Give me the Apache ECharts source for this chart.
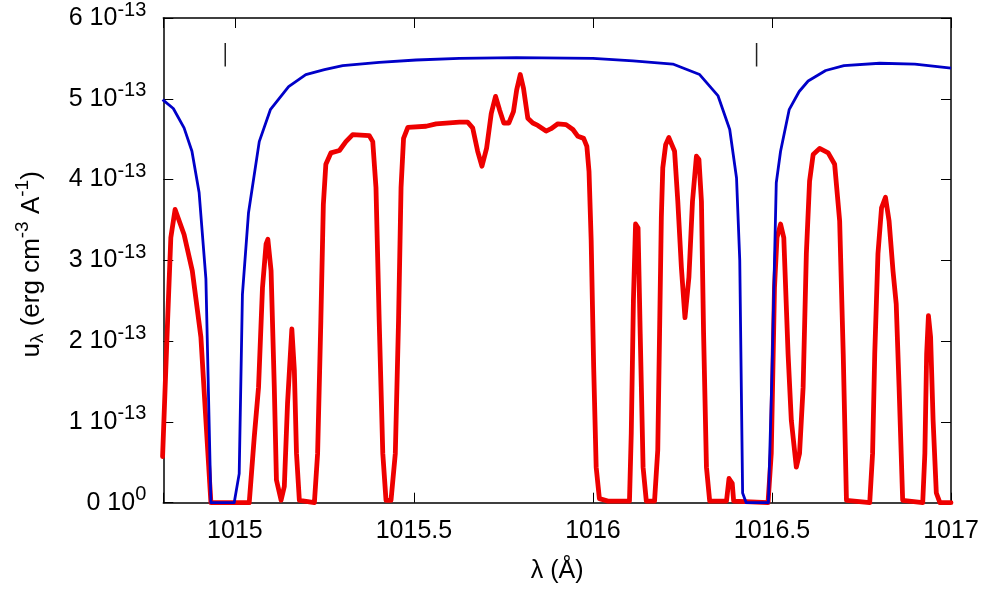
<!DOCTYPE html>
<html>
<head>
<meta charset="utf-8">
<script src="https://cdn.jsdelivr.net/npm/echarts@6/dist/echarts.min.js"></script>
<style>html,body{margin:0;padding:0;background:#fff}#c{width:985px;height:591px}</style>
</head>
<body>
<div id="c"></div>
<script>
// Units: wavelength in Å, energy density in units of 1e-13 erg cm^-3 A^-1
const UNIT = 1e-13;
const xMin = 1014.8, xMax = 1017;
const yTicks = [0, 1, 2, 3, 4, 5, 6];
const xTicks = [1015, 1015.5, 1016, 1016.5, 1017];

const lambdaBlue = [1014.798,1014.828,1014.858,1014.880,1014.900,1014.919,1014.933,1014.998,1015.012,1015.021,1015.038,1015.068,1015.099,1015.150,1015.198,1015.250,1015.301,1015.403,1015.506,1015.627,1015.786,1016.000,1016.112,1016.223,1016.298,1016.349,1016.382,1016.401,1016.410,1016.418,1016.428,1016.490,1016.500,1016.512,1016.524,1016.548,1016.576,1016.601,1016.650,1016.701,1016.801,1016.899,1017.0];
const uBlue = [4.99,4.88,4.64,4.35,3.84,2.77,0.0,0.0,0.36,2.58,3.59,4.47,4.865,5.15,5.30,5.36,5.41,5.45,5.48,5.50,5.51,5.50,5.47,5.43,5.30,5.04,4.62,4.02,3.0,0.12,0.0,0.0,1.6,3.96,4.35,4.865,5.09,5.22,5.35,5.41,5.44,5.43,5.38];

const lambdaRed = [1014.798,1014.812,1014.821,1014.833,1014.858,1014.881,1014.905,1014.919,1014.933,1015.040,1015.054,1015.066,1015.077,1015.087,1015.092,1015.101,1015.110,1015.116,1015.129,1015.138,1015.147,1015.159,1015.166,1015.172,1015.180,1015.222,1015.231,1015.240,1015.247,1015.254,1015.268,1015.292,1015.310,1015.329,1015.375,1015.385,1015.394,1015.403,1015.413,1015.422,1015.436,1015.448,1015.457,1015.464,1015.471,1015.483,1015.534,1015.562,1015.627,1015.650,1015.664,1015.678,1015.690,1015.703,1015.716,1015.728,1015.739,1015.751,1015.765,1015.778,1015.787,1015.797,1015.806,1015.818,1015.832,1015.846,1015.869,1015.883,1015.902,1015.925,1015.944,1015.958,1015.974,1015.983,1015.989,1015.995,1016.002,1016.009,1016.018,1016.042,1016.102,1016.107,1016.113,1016.119,1016.126,1016.132,1016.140,1016.149,1016.172,1016.181,1016.186,1016.191,1016.195,1016.203,1016.212,1016.228,1016.237,1016.247,1016.257,1016.268,1016.278,1016.289,1016.296,1016.303,1016.309,1016.317,1016.326,1016.373,1016.380,1016.389,1016.393,1016.489,1016.498,1016.507,1016.514,1016.524,1016.533,1016.545,1016.554,1016.568,1016.577,1016.587,1016.596,1016.605,1016.615,1016.633,1016.657,1016.675,1016.689,1016.699,1016.708,1016.773,1016.781,1016.787,1016.796,1016.806,1016.817,1016.827,1016.838,1016.847,1016.855,1016.865,1016.921,1016.927,1016.932,1016.937,1016.943,1016.950,1016.959,1016.969,1017.0];
const uRed = [0.57,2.25,3.28,3.63,3.32,2.87,2.05,1.02,0.0,0.0,0.81,1.43,2.66,3.20,3.26,2.87,1.43,0.28,0.03,0.20,1.23,2.15,1.64,0.61,0.03,0.0,0.61,2.25,3.69,4.19,4.33,4.36,4.47,4.557,4.545,4.47,3.90,2.25,0.61,0.03,0.03,0.61,2.25,3.90,4.51,4.647,4.66,4.69,4.71,4.71,4.64,4.35,4.165,4.39,4.82,5.03,4.865,4.70,4.70,4.84,5.11,5.30,5.13,4.76,4.70,4.67,4.60,4.63,4.69,4.68,4.62,4.535,4.51,4.41,4.10,3.25,1.68,0.44,0.05,0.02,0.02,0.86,2.50,3.45,3.40,2.09,0.44,0.02,0.02,0.65,2.09,3.53,4.145,4.43,4.52,4.35,3.73,2.91,2.29,2.79,3.73,4.29,4.25,3.73,2.09,0.44,0.02,0.02,0.30,0.24,0.02,0.0,0.61,2.66,3.28,3.45,3.28,1.84,1.02,0.44,0.61,1.43,3.08,3.98,4.31,4.385,4.33,4.19,3.49,1.84,0.03,0.0,0.61,1.84,3.08,3.65,3.78,3.49,2.87,2.46,1.43,0.03,0.0,0.61,1.84,2.315,2.05,1.02,0.12,0.0,0.0];

// short vertical line markers
const markLambda = [1014.973, 1016.457];
const markU = [5.40, 5.69];

const FONT = '"Liberation Sans", Arial, Helvetica, sans-serif';
const FS = 25, FSS = 20, FT = 26;

function pairs(xs, ys) { return xs.map((x, i) => [x, ys[i] * UNIT]); }

const chart = echarts.init(document.getElementById('c'), null, {renderer: 'canvas'});

const lineAxis = {show: true, onZero: false, lineStyle: {color: '#000', width: 1.5}};
const tickInside = {show: true, inside: true, length: 10, lineStyle: {color: '#000', width: 1}};

const markerSeries = markLambda.map(l => ({
  type: 'line', data: markU.map(u => [l, u * UNIT]), showSymbol: false, silent: true,
  lineStyle: {color: '#222', width: 1.5}, z: 3
}));

chart.setOption({
  animation: false,
  backgroundColor: '#fff',
  grid: {left: 163.3, right: 34, top: 16.3, bottom: 88.3, containLabel: false},
  xAxis: [{
    type: 'value', min: xMin, max: xMax, splitNumber: 4, position: 'bottom',
    axisLine: lineAxis, axisTick: tickInside, splitLine: {show: false},
    axisLabel: {margin: 16, color: '#000', fontSize: FS, fontFamily: FONT,
      formatter: v => xTicks.some(t => Math.abs(t - v) < 1e-6) ? String(+v.toFixed(1)) : ''},
    name: 'λ (Å)', nameLocation: 'middle', nameGap: 56,
    nameTextStyle: {color: '#000', fontSize: FS, fontFamily: FONT}
  }, {
    type: 'value', min: xMin, max: xMax, splitNumber: 4, position: 'top',
    axisLine: lineAxis, axisTick: tickInside, splitLine: {show: false}, axisLabel: {show: false}
  }],
  yAxis: [{
    type: 'value', min: yTicks[0] * UNIT, max: yTicks[yTicks.length - 1] * UNIT, interval: UNIT, position: 'left',
    axisLine: lineAxis, axisTick: tickInside, splitLine: {show: false},
    axisLabel: {margin: 17, color: '#000', fontFamily: FONT,
      formatter: v => { const n = Math.round(v / UNIT); return n === 0 ? '{b|0 10}{s|0}' : '{b|' + n + ' 10}{s|-13}'; },
      rich: {
        b: {fontSize: FS, fontFamily: FONT, color: '#000', lineHeight: 36},
        s: {fontSize: FSS, fontFamily: FONT, color: '#000', lineHeight: 20, verticalAlign: 'top'}
      }
    },
    name: '{t|u}{sub|λ}{t| (erg cm}{sup|-3}{t| A}{sup|-1}{e|)}', nameLocation: 'middle', nameGap: 116,
    nameTextStyle: {color: '#000', fontFamily: FONT,
      rich: {
        t: {fontSize: FT, fontFamily: FONT, color: '#000', lineHeight: 34, padding: [4, 0, 0, 0]},
        e: {fontSize: FT, fontFamily: FONT, color: '#000', lineHeight: 34, padding: [4, 8, 0, 0]},
        sub: {fontSize: FSS - 1, fontFamily: FONT, color: '#000', lineHeight: 19, verticalAlign: 'bottom'},
        sup: {fontSize: FSS - 1, fontFamily: FONT, color: '#000', lineHeight: 19, verticalAlign: 'top'}
      }
    }
  }, {
    type: 'value', min: yTicks[0] * UNIT, max: yTicks[yTicks.length - 1] * UNIT, interval: UNIT, position: 'right',
    axisLine: lineAxis, axisTick: tickInside, splitLine: {show: false}, axisLabel: {show: false}
  }],
  series: [{
    type: 'line', name: 'red', data: pairs(lambdaRed, uRed), showSymbol: false, clip: false,
    lineStyle: {color: '#ee0000', width: 4.8, join: 'round', cap: 'round'}, z: 2
  }, {
    type: 'line', name: 'blue', data: pairs(lambdaBlue, uBlue), showSymbol: false, clip: false,
    lineStyle: {color: '#0000c8', width: 2.8, join: 'round'}, z: 3
  }].concat(markerSeries)
});
</script>
</body>
</html>
